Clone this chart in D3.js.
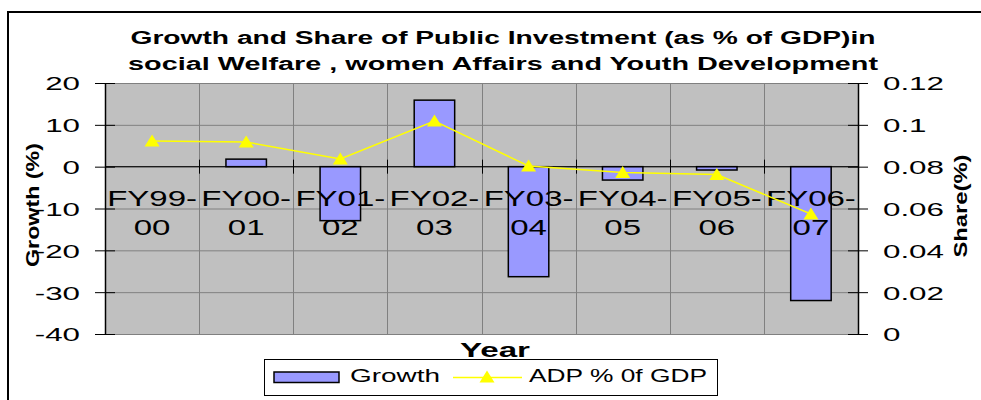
<!DOCTYPE html>
<html>
<head>
<meta charset="utf-8">
<script src="https://d3js.org/d3.v7.min.js"></script>
<style>
  body { margin: 0; background: #fff; }
  text { font-family: Arial, "Liberation Sans", sans-serif; fill: #000; }
</style>
</head>
<body>
<script>
var width = 981;
var height = 400;

// data
var years = ['FY99-00', 'FY00-01', 'FY01-02', 'FY02-03', 'FY03-04', 'FY04-05', 'FY05-06', 'FY06-07'];
var growth = [null, 1.8, -12.9, 15.9, -26.3, -3.2, -0.8, -32.0];
var share = [0.0923, 0.0918, 0.0837, 0.1018, 0.0803, 0.0772, 0.0762, 0.0574];
var growthTicks = [20, 10, 0, -10, -20, -30, -40];
var shareTicks = [0, 0.02, 0.04, 0.06, 0.08, 0.1, 0.12];

var plot = {left: 105, right: 858, top: 83, bottom: 334};

var svg = d3.select('body').append('svg')
  .attr('width', width)
  .attr('height', height);

// outer chart border (runs off the right and bottom edge)
svg.append('rect')
  .attr('x', 8).attr('y', 12)
  .attr('width', 1000).attr('height', 420)
  .style('fill', '#fff')
  .style('stroke', '#000')
  .style('stroke-width', 2);

var x = d3.scaleBand().domain(years).range([plot.left, plot.right]);
var y = d3.scaleLinear().domain([-40, 20]).range([plot.bottom, plot.top]);
var y2 = d3.scaleLinear().domain([0, 0.12]).range([plot.bottom, plot.top]);
var barW = x.bandwidth() * 0.43;

// plot area
svg.append('rect')
  .attr('x', plot.left).attr('y', plot.top)
  .attr('width', plot.right - plot.left).attr('height', plot.bottom - plot.top)
  .style('fill', '#c0c0c0');

svg.selectAll('.hgrid').data(growthTicks).enter()
  .append('line')
  .attr('x1', plot.left).attr('x2', plot.right)
  .attr('y1', function(d) { return y(d) + 0.5; })
  .attr('y2', function(d) { return y(d) + 0.5; })
  .style('stroke', '#808080');

svg.selectAll('.vgrid').data(years.slice(1)).enter()
  .append('line')
  .attr('x1', function(d) { return Math.round(x(d)) + 0.5; })
  .attr('x2', function(d) { return Math.round(x(d)) + 0.5; })
  .attr('y1', plot.top).attr('y2', plot.bottom)
  .style('stroke', '#808080');

// growth bars
var barData = years.map(function(d, i) { return {year: d, v: growth[i]}; })
  .filter(function(d) { return d.v !== null; });

svg.selectAll('.bar').data(barData).enter()
  .append('rect')
  .attr('x', function(d) { return x(d.year) + (x.bandwidth() - barW) / 2; })
  .attr('y', function(d) { return y(Math.max(0, d.v)); })
  .attr('width', barW)
  .attr('height', function(d) { return Math.abs(y(d.v) - y(0)); })
  .style('fill', '#9999ff')
  .style('stroke', '#000')
  .style('stroke-width', 1.5);

// zero line with category ticks
svg.append('line')
  .attr('x1', plot.left).attr('x2', plot.right)
  .attr('y1', y(0)).attr('y2', y(0))
  .style('stroke', '#000');

svg.selectAll('.xtick').data(years.slice(1)).enter()
  .append('line')
  .attr('x1', function(d) { return Math.round(x(d)) + 0.5; })
  .attr('x2', function(d) { return Math.round(x(d)) + 0.5; })
  .attr('y1', y(0) - 7).attr('y2', y(0) + 7)
  .style('stroke', '#000');

// category labels sit just under the zero line, over the bars
var cat = svg.selectAll('.cat').data(years).enter()
  .append('g')
  .attr('transform', function(d) {
    return 'translate(' + (x(d) + x.bandwidth() / 2) + ',0)';
  });
[0, 1].forEach(function(row) {
  cat.append('text')
    .attr('transform', 'translate(0,' + (y(0) + 39 + row * 29) + ') scale(1.5,1)')
    .attr('text-anchor', 'middle')
    .style('font-size', '22px')
    .text(function(d) {
      var parts = d.split('-');
      return row === 0 ? parts[0] + '-' : parts[1];
    });
});

// left axis
var sx = 1.65;
var leftAxis = svg.append('g')
  .attr('transform', 'translate(' + plot.left + ',0)')
  .call(d3.axisLeft(y).tickValues(growthTicks).tickSize(10).tickSizeOuter(0)
    .tickFormat(function(d) { return String(d); }));
leftAxis.select('.domain').style('stroke', '#000').style('stroke-width', 1.5);
leftAxis.selectAll('.tick line').attr('x1', 10).style('stroke', '#000');
leftAxis.selectAll('.tick text')
  .attr('x', -25 / sx)
  .attr('dy', '0.36em')
  .attr('transform', 'scale(' + sx + ',1)')
  .style('font-size', '19px')
  .style('font-family', 'Arial, "Liberation Sans", sans-serif');

// right axis
var rightAxis = svg.append('g')
  .attr('transform', 'translate(' + plot.right + ',0)')
  .call(d3.axisRight(y2).tickValues(shareTicks).tickSize(10).tickSizeOuter(0)
    .tickFormat(function(d) { return String(d); }));
rightAxis.select('.domain').style('stroke', '#000').style('stroke-width', 1.5);
rightAxis.selectAll('.tick line').attr('x1', -10).style('stroke', '#000');
rightAxis.selectAll('.tick text')
  .attr('x', 25 / sx)
  .attr('dy', '0.36em')
  .attr('transform', 'scale(' + sx + ',1)')
  .style('font-size', '19px')
  .style('font-family', 'Arial, "Liberation Sans", sans-serif');

// share line
var line = d3.line()
  .x(function(d, i) { return x(years[i]) + x.bandwidth() / 2; })
  .y(function(d) { return y2(d); });

svg.append('path')
  .datum(share)
  .attr('d', line)
  .style('fill', 'none')
  .style('stroke', '#ffff00')
  .style('stroke-width', 1.5);

var tri = 'M0,-6.5L7.5,5.5L-7.5,5.5Z';
svg.selectAll('.mark').data(share).enter()
  .append('path')
  .attr('d', tri)
  .attr('transform', function(d, i) {
    return 'translate(' + (x(years[i]) + x.bandwidth() / 2) + ',' + y2(d) + ')';
  })
  .style('fill', '#ffff00');

// titles
var title = ['Growth and Share of Public Investment (as % of GDP)in',
             'social Welfare , women Affairs and Youth Development'];
svg.selectAll('.title').data(title).enter()
  .append('text')
  .attr('x', 503)
  .attr('y', function(d, i) { return 44 + i * 26; })
  .attr('text-anchor', 'middle')
  .attr('textLength', function(d, i) { return i === 0 ? 745 : 750; })
  .attr('lengthAdjust', 'spacingAndGlyphs')
  .style('font-size', '18px')
  .style('font-weight', 'bold')
  .text(function(d) { return d; });

svg.append('text')
  .attr('x', 495).attr('y', 357)
  .attr('text-anchor', 'middle')
  .attr('textLength', 70)
  .attr('lengthAdjust', 'spacingAndGlyphs')
  .style('font-size', '21px')
  .style('font-weight', 'bold')
  .text('Year');

svg.append('text')
  .attr('transform', 'translate(39,205) rotate(-90)')
  .attr('text-anchor', 'middle')
  .attr('textLength', 124)
  .attr('lengthAdjust', 'spacingAndGlyphs')
  .style('font-size', '18px')
  .style('font-weight', 'bold')
  .text('Growth (%)');

svg.append('text')
  .attr('transform', 'translate(967,206) rotate(-90)')
  .attr('text-anchor', 'middle')
  .attr('textLength', 103)
  .attr('lengthAdjust', 'spacingAndGlyphs')
  .style('font-size', '18px')
  .style('font-weight', 'bold')
  .text('Share(%)');

// legend
var legend = svg.append('g');
legend.append('rect')
  .attr('x', 264.5).attr('y', 359.5)
  .attr('width', 453).attr('height', 36)
  .style('fill', '#fff')
  .style('stroke', '#000');
legend.append('rect')
  .attr('x', 274).attr('y', 372)
  .attr('width', 65).attr('height', 10.5)
  .style('fill', '#9999ff')
  .style('stroke', '#000')
  .style('stroke-width', 1.5);
legend.append('text')
  .attr('x', 350).attr('y', 382)
  .attr('textLength', 90)
  .attr('lengthAdjust', 'spacingAndGlyphs')
  .style('font-size', '18.5px')
  .text('Growth');
legend.append('line')
  .attr('x1', 453).attr('x2', 522)
  .attr('y1', 377.5).attr('y2', 377.5)
  .style('stroke', '#ffff00')
  .style('stroke-width', 1.5);
legend.append('path')
  .attr('d', tri)
  .attr('transform', 'translate(487,377)')
  .style('fill', '#ffff00');
legend.append('text')
  .attr('x', 529).attr('y', 382)
  .attr('textLength', 178)
  .attr('lengthAdjust', 'spacingAndGlyphs')
  .style('font-size', '18.5px')
  .text('ADP % 0f GDP');
</script>
</body>
</html>
